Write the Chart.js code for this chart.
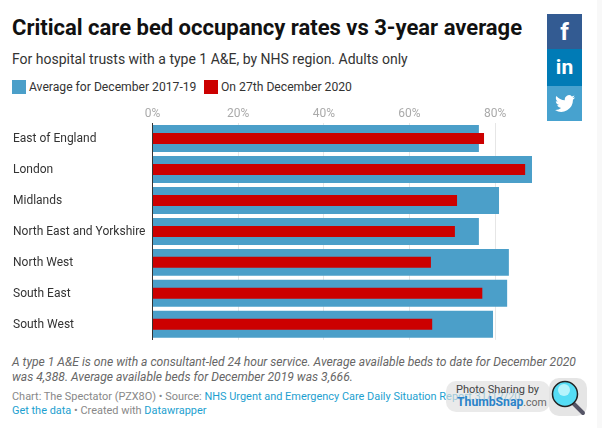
<!DOCTYPE html>
<html>
<head>
<meta charset="utf-8">
<script src="https://cdn.jsdelivr.net/npm/chart.js@4"></script>
<style>
html, body { margin: 0; padding: 0; background: #fff; }
body { width: 602px; height: 428px; position: relative; overflow: hidden; font-family: Roboto, sans-serif; }
.abs { position: absolute; white-space: nowrap; }
#strip { left: 597px; top: 0; width: 5px; height: 428px; background: #f8f8f8; }
#title { left: 12px; top: 13px; font-size: 22px; line-height: 30px; font-weight: 700; color: #111; }
#subtitle { left: 12px; top: 49px; font-size: 14px; line-height: 20px; color: #333; }
.swatch { top: 80px; width: 14px; height: 14px; }
.legend { top: 78px; font-size: 12.15px; line-height: 18px; color: #333; }
#note { left: 12px; top: 355px; font-size: 12.1px; line-height: 15px; font-style: italic; color: #666; }
#credit { left: 12px; top: 390px; font-size: 10.95px; line-height: 13.5px; color: #888; }
#credit a { color: #1d9fd0; text-decoration: none; }
.social { left: 547px; width: 35px; color: #fff; text-align: center; font-weight: 700; }
#chart { position: absolute; left: 0; top: 100px; }
#snap { left: 446px; top: 381px; width: 104px; height: 31px; background: rgba(222,222,222,.65); border-radius: 10px; }
#snapIcon { left: 549px; top: 378px; width: 38px; height: 38px; background: rgba(226,226,226,.9); border-radius: 10px; }
</style>
</head>
<body>
<div class="abs" id="strip"></div>
<div class="abs" id="title">Critical care bed occupancy rates vs 3-year average</div>
<div class="abs" id="subtitle">For hospital trusts with a type 1 A&amp;E, by NHS region. Adults only</div>
<div class="abs swatch" style="left:12px;background:#4b9fc9"></div>
<div class="abs legend" style="left:29px">Average for December 2017-19</div>
<div class="abs swatch" style="left:204px;background:#cc0000"></div>
<div class="abs legend" style="left:221px">On 27th December 2020</div>
<div class="abs social" style="top:14px;height:35px;background:#335b92;font-size:24px;line-height:36px">f</div>
<div class="abs social" style="top:49px;height:37px;background:#007bb6;font-size:21px;line-height:36px">in</div>
<div class="abs social" style="top:86px;height:35px;background:#47a2cf">
  <svg width="20" height="17" viewBox="0 0 24 20" style="margin-top:9px"><path fill="#fff" d="M24 2.4c-.9.4-1.8.7-2.8.8 1-.6 1.8-1.6 2.2-2.7-1 .6-2 1-3.100 1.200A4.900 4.900 0 0 0 11.900 6.200C7.800 6 4.200 4 1.700.9.400 3.100 1 6 3.200 7.500c-.8 0-1.600-.2-2.200-.6 0 2.400 1.700 4.400 3.900 4.900-.7.200-1.500.2-2.200.1.600 2 2.400 3.400 4.600 3.400A9.900 9.900 0 0 1 0 17.800 14 14 0 0 0 21.500 5.400c1-.7 1.900-1.700 2.500-3z"/></svg>
</div>
<canvas id="chart" width="538" height="250"></canvas>
<div class="abs" id="note">A type 1 A&amp;E is one with a consultant-led 24 hour service. Average available beds to date for December 2020<br>was 4,388. Average available beds for December 2019 was 3,666.</div>
<div class="abs" id="credit">Chart: The Spectator (PZX8O) • Source: <a>NHS Urgent and Emergency Care Daily Situation Report 31/12/20</a><br><a>Get the data</a> • Created with <a>Datawrapper</a></div>
<div class="abs" id="snap">
  <div class="abs" style="left:10px;top:2px;font-size:11px;color:#444">Photo Sharing by</div>
  <div class="abs" style="left:11px;top:14px;font-size:12.2px;font-weight:700;color:#2a83c9">ThumbSnap<span style="font-weight:400;font-size:10.5px;color:#666">.com</span></div>
</div>
<div class="abs" id="snapIcon">
  <svg width="38" height="38" viewBox="0 0 38 38">
    <line x1="23" y1="24" x2="34" y2="35" stroke="#556" stroke-width="4" stroke-linecap="round"/>
    <circle cx="16" cy="16" r="12.500" fill="#55ddf5" stroke="#222" stroke-width="1.500"/>
    <circle cx="15" cy="12" r="6" fill="#b5f4fc"/>
  </svg>
</div>
<script>
const regions = ['East of England', 'London', 'Midlands', 'North East and Yorkshire', 'North West', 'South East', 'South West'];
const average2017to19 = [76.2, 88.6, 80.9, 76.2, 83.2, 82.8, 79.5];
const dec27th2020 = [77.4, 87, 71.1, 70.6, 65, 77, 65.3];
const xTicks = [0, 20, 40, 60, 80];

new Chart(document.getElementById('chart'), {
    type: 'bar',
    data: {
        labels: regions,
        datasets: [
            { label: 'On 27th December 2020', data: dec27th2020, backgroundColor: '#cc0000', barPercentage: 0.355, order: 1 },
            { label: 'Average for December 2017-19', data: average2017to19, backgroundColor: '#4b9fc9', barPercentage: 0.871, order: 2 }
        ]
    },
    options: {
        indexAxis: 'y',
        responsive: false,
        animation: false,
        grouped: false,
        categoryPercentage: 1,
        layout: { padding: { left: 13 } },
        plugins: { legend: { display: false }, tooltip: { enabled: false } },
        scales: {
            x: {
                position: 'top',
                min: 0,
                max: 90,
                afterBuildTicks: axis => { axis.ticks = xTicks.map(value => ({ value })); },
                afterFit: axis => { axis.height = 23; },
                ticks: {
                    callback: v => v + '%',
                    color: '#aaa',
                    padding: 2,
                    font: { family: 'Roboto', size: 12 }
                },
                grid: { color: '#e6e6e6', drawTicks: false, lineWidth: 1 },
                border: { display: false }
            },
            y: {
                afterFit: axis => { axis.width = 139.5; },
                ticks: {
                    crossAlign: 'far',
                    autoSkip: false,
                    labelOffset: 1,
                    color: '#333',
                    font: { family: 'Roboto', size: 12 }
                },
                grid: { display: false, drawTicks: false },
                border: { color: '#333', width: 1 }
            }
        }
    }
});
</script>
</body>
</html>
